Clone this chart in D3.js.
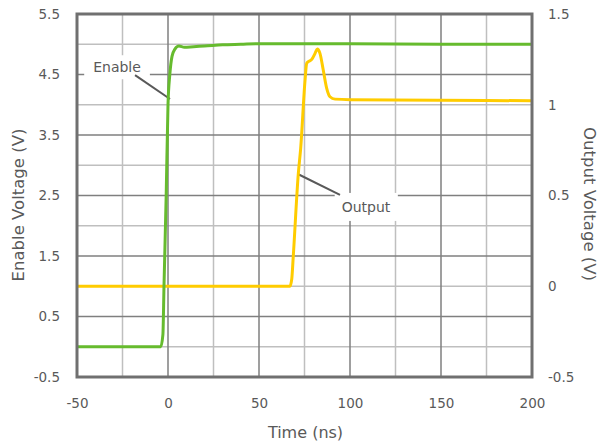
<!DOCTYPE html>
<html>
<head>
<meta charset="utf-8">
<script src="https://cdn.jsdelivr.net/npm/d3@7"></script>
<style>
  html, body { margin: 0; padding: 0; background: #fff; }
  svg { display: block; }
  text { font-family: "DejaVu Sans", Verdana, sans-serif; fill: #595959; }
</style>
</head>
<body>
<div id="chart"></div>
<script>
// ---- data ----
const enableTime = [-50, -4, -2.8, -2.2, -1.0, 0, 1, 2.2, 3.8, 6, 9, 14, 20, 30, 40, 50, 75, 100, 150, 200];
const enableVal  = [0, 0, 0.2, 1.0, 2.5, 4.0, 4.5, 4.8, 4.92, 4.97, 4.95, 4.96, 4.97, 4.99, 5.0, 5.01, 5.01, 5.01, 5.0, 5.0];
const outputTime = [-50, 67, 68, 68.8, 71.6, 72.9, 75.3, 76.2, 77.1, 79, 80.8, 82, 83.5, 85.3, 87.2, 89, 91.8, 100, 150, 200];
const outputVal  = [0, 0, 0.04, 0.16, 0.62, 0.76, 1.136, 1.228, 1.237, 1.25, 1.283, 1.307, 1.283, 1.191, 1.09, 1.044, 1.031, 1.028, 1.025, 1.022];
const xTicks = [-50, 0, 50, 100, 150, 200];
const xMinor = [-25, 25, 75, 125, 175];
const leftTicks = [-0.5, 0.5, 1.5, 2.5, 3.5, 4.5, 5.5];
const leftMinor = [0, 1, 2, 3, 4, 5];
const rightTicks = [-0.5, 0, 0.5, 1, 1.5];

// ---- layout ----
const W = 603, H = 447;
const m = { left: 77, right: 71, top: 14, bottom: 70 };
const pw = W - m.left - m.right, ph = H - m.top - m.bottom;

const x = d3.scaleLinear().domain([-50, 200]).range([m.left, m.left + pw]);
const yL = d3.scaleLinear().domain([-0.5, 5.5]).range([m.top + ph, m.top]);
const yR = d3.scaleLinear().domain([-0.5, 1.5]).range([m.top + ph, m.top]);

const svg = d3.select("#chart").append("svg").attr("width", W).attr("height", H);

const darkGrid = "#7f7f7f", lightGrid = "#bfbfbf";

// grid
const g = svg.append("g");
g.selectAll(".vminor").data(xMinor).join("line")
  .attr("x1", d => x(d)).attr("x2", d => x(d)).attr("y1", m.top).attr("y2", m.top + ph)
  .attr("stroke", lightGrid).attr("stroke-width", 1.5);
g.selectAll(".hminor").data(leftMinor).join("line")
  .attr("y1", d => yL(d)).attr("y2", d => yL(d)).attr("x1", m.left).attr("x2", m.left + pw)
  .attr("stroke", lightGrid).attr("stroke-width", 1.5);
g.selectAll(".vmajor").data(xTicks).join("line")
  .attr("x1", d => x(d)).attr("x2", d => x(d)).attr("y1", m.top).attr("y2", m.top + ph)
  .attr("stroke", darkGrid).attr("stroke-width", 1.5);
g.selectAll(".hmajor").data(leftTicks).join("line")
  .attr("y1", d => yL(d)).attr("y2", d => yL(d)).attr("x1", m.left).attr("x2", m.left + pw)
  .attr("stroke", darkGrid).attr("stroke-width", 1.5);

// axes (text only)
const fmt = d => String(d);
const ax = svg.append("g").attr("transform", `translate(0,${m.top + ph})`)
  .call(d3.axisBottom(x).tickValues(xTicks).tickSize(0).tickPadding(21).tickFormat(fmt));
const al = svg.append("g").attr("transform", `translate(${m.left},0)`)
  .call(d3.axisLeft(yL).tickValues(leftTicks).tickSize(0).tickPadding(17).tickFormat(fmt));
const ar = svg.append("g").attr("transform", `translate(${m.left + pw},0)`)
  .call(d3.axisRight(yR).tickValues(rightTicks).tickSize(0).tickPadding(16).tickFormat(fmt));
[ax, al, ar].forEach(a => {
  a.select(".domain").remove();
  a.selectAll("text").attr("font-size", 13.5).attr("font-family", "DejaVu Sans, sans-serif").attr("fill", "#595959");
});

// axis titles
svg.append("text").attr("x", m.left + pw / 2 + 1).attr("y", 432).attr("text-anchor", "middle")
  .attr("dominant-baseline", "central").attr("font-size", 16).text("Time (ns)");
svg.append("text").attr("transform", `translate(18,205) rotate(-90)`)
  .attr("text-anchor", "middle").attr("dominant-baseline", "central").attr("font-size", 16.5).text("Enable Voltage (V)");
svg.append("text").attr("transform", `translate(589,204) rotate(90)`)
  .attr("text-anchor", "middle").attr("dominant-baseline", "central").attr("font-size", 16.5).text("Output Voltage (V)");

// annotations
function label(txt, cx, cy, padX, padY) {
  const t = svg.append("text").attr("x", cx).attr("y", cy).attr("text-anchor", "middle")
    .attr("dominant-baseline", "central").attr("font-size", 14).text(txt);
  const b = t.node().getBBox();
  svg.insert("rect", () => t.node())
    .attr("x", b.x - padX).attr("y", b.y - padY).attr("width", b.width + 2 * padX).attr("height", b.height + 2 * padY)
    .attr("fill", "#fff");
}
label("Enable", x(-28), yL(4.62), 9, 4);
label("Output", x(108.8), yR(0.437), 7, 6);

svg.append("line").attr("x1", x(-18.1)).attr("y1", yL(4.49)).attr("x2", x(1.1)).attr("y2", yL(4.095))
  .attr("stroke", "#595959").attr("stroke-width", 2);
svg.append("line").attr("x1", x(94.5)).attr("y1", yR(0.503)).attr("x2", x(71.6)).attr("y2", yR(0.617))
  .attr("stroke", "#595959").attr("stroke-width", 2);

// series
const enableData = enableTime.map((t, i) => [t, enableVal[i]]);
const outputData = outputTime.map((t, i) => [t, outputVal[i]]);
const lineL = d3.line().x(d => x(d[0])).y(d => yL(d[1])).curve(d3.curveMonotoneX);
const lineR = d3.line().x(d => x(d[0])).y(d => yR(d[1])).curve(d3.curveMonotoneX);

svg.append("path").datum(outputData).attr("d", lineR).attr("fill", "none")
  .attr("stroke", "#ffcc00").attr("stroke-width", 3).attr("stroke-linejoin", "round");
svg.append("path").datum(enableData).attr("d", lineL).attr("fill", "none")
  .attr("stroke", "#66bb2e").attr("stroke-width", 3).attr("stroke-linejoin", "round");

// border
svg.append("rect").attr("x", m.left).attr("y", m.top).attr("width", pw).attr("height", ph)
  .attr("fill", "none").attr("stroke", "#707070").attr("stroke-width", 3);
</script>
</body>
</html>
